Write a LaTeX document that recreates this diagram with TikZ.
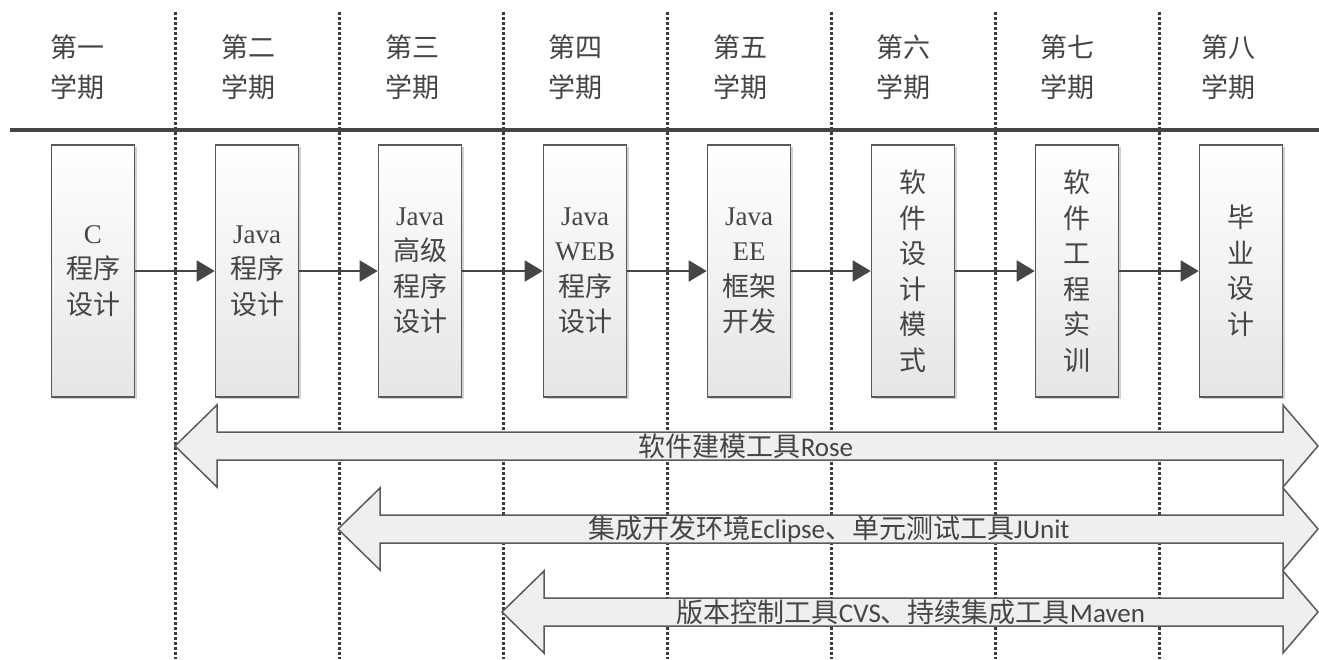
\documentclass[tikz,border=0pt]{standalone}
\usepackage{fontspec}
\setmainfont{Liberation Serif}
\newfontfamily\cjk{Noto Sans CJK SC}
\newfontfamily\ser{Liberation Serif}
\newfontfamily\lat{Carlito}
\usetikzlibrary{arrows.meta,shadows}
\definecolor{ink}{HTML}{454545}
\definecolor{edge}{HTML}{5A5A5A}
\definecolor{dotc}{HTML}{3C3C3C}
\definecolor{arrfill}{HTML}{EFEFEF}
\newcommand\blockarrow[2]{%
  \draw[bigarrow] (#1,#2) -- ({#1+42},{#2-41}) -- ({#1+42},{#2-14}) -- (1283,{#2-14})
    -- (1283,{#2-41}) -- (1318,#2) -- (1283,{#2+41}) -- (1283,{#2+14})
    -- ({#1+42},{#2+14}) -- ({#1+42},{#2+41}) -- cycle;}
\begin{document}
\begin{tikzpicture}[x=1pt,y=-1pt,
  course/.style={draw=edge, line width=1.6pt, top color=white, bottom color=gray!20,
    minimum width=83pt, minimum height=252pt, inner sep=0pt, align=center,
    font=\fontsize{27}{35.5}\selectfont\cjk, text=ink,
    drop shadow={shadow xshift=2pt, shadow yshift=-2pt, fill=gray, opacity=0.35}},
  term/.style={align=center, font=\fontsize{27}{40}\selectfont\cjk, text=ink},
  flow/.style={draw=ink, line width=1.8pt, -{Triangle[length=18pt,width=21pt]}},
  divider/.style={draw=dotc, line width=3pt, dash pattern=on 3pt off 2pt},
  bigarrow/.style={draw=edge, line width=1.5pt, fill=arrfill, line join=miter},
  band/.style={font=\fontsize{27}{30}\selectfont, text=ink, inner sep=0pt}]
\useasboundingbox (0,0) rectangle (1319,659);
\fill[white] (0,0) rectangle (1319,659);

% dotted dividers
\foreach \x [count=\i] in {175,339,503,667,831,995,1159}
  \draw[divider] (\x,12) -- (\x,659);

% top rule
\draw[draw=ink, line width=3.5pt] (10,130) -- (1319,130);

% semester headers
\node[term] (h1) at (77,67) {第一\\学期};
\node[term] (h2) at (248,67) {第二\\学期};
\node[term] (h3) at (412,67) {第三\\学期};
\node[term] (h4) at (575,67) {第四\\学期};
\node[term] (h5) at (740,67) {第五\\学期};
\node[term] (h6) at (903,67) {第六\\学期};
\node[term] (h7) at (1067,67) {第七\\学期};
\node[term] (h8) at (1228,67) {第八\\学期};

% course boxes
\node[course] (c1) at (93,271) {\ser C\\程序\\设计};
\node[course] (c2) at (257,271) {\ser Java\\程序\\设计};
\node[course] (c3) at (420,271) {\ser Java\\高级\\程序\\设计};
\node[course] (c4) at (585,271) {\ser Java\\\ser WEB\\程序\\设计};
\node[course] (c5) at (749,271) {\ser Java\\\ser EE\\框架\\开发};
\node[course] (c6) at (913,271) {软\\件\\设\\计\\模\\式};
\node[course] (c7) at (1077,271) {软\\件\\工\\程\\实\\训};
\node[course] (c8) at (1241,271) {毕\\业\\设\\计};

\draw[flow] (c1.east) -- (c2.west);
\draw[flow] (c2.east) -- (c3.west);
\draw[flow] (c3.east) -- (c4.west);
\draw[flow] (c4.east) -- (c5.west);
\draw[flow] (c5.east) -- (c6.west);
\draw[flow] (c6.east) -- (c7.west);
\draw[flow] (c7.east) -- (c8.west);

% tool bands
\blockarrow{175}{446}
\blockarrow{338}{529}
\blockarrow{502}{612}

\node[band] (t1) at (746,446) {{\cjk 软件建模工具}{\lat Rose}};
\node[band] (t2) at (829,529) {{\cjk 集成开发环境}{\lat Eclipse}{\cjk 、单元测试工具}{\lat JUnit}};
\node[band] (t3) at (911,612) {{\cjk 版本控制工具}{\lat CVS}{\cjk 、持续集成工具}{\lat Maven}};
\end{tikzpicture}
\end{document}
